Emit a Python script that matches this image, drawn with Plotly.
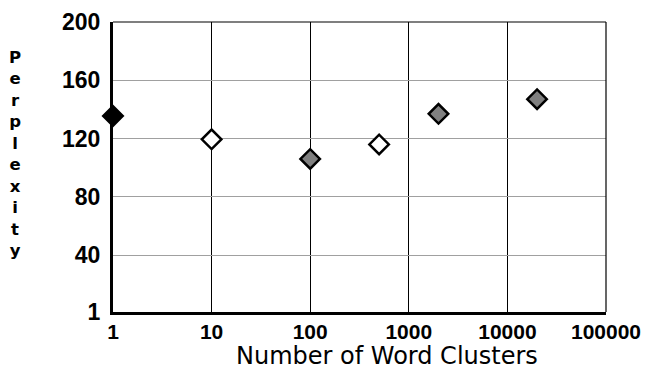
import plotly.graph_objects as go

clusters = [1, 10, 100, 500, 2000, 20000]
perplexity = [135.5, 119.5, 106, 116, 137, 147]
fill_colors = ["#000000", "#ffffff", "#808080", "#ffffff", "#808080", "#808080"]
x_ticks = [1, 10, 100, 1000, 10000, 100000]
x_tick_labels = ["1", "10", "100", "1000", "10000", "100000"]
y_ticks = [1, 40, 80, 120, 160, 200]
y_tick_labels = ["1", "40", "80", "120", "160", "200"]
y_title = "Perplexity"
x_title = "Number of Word Clusters"

TICKFONT = "Liberation Sans"
TITLEFONT = "DejaVu Sans"

fig = go.Figure()
fig.add_trace(go.Scatter(
    x=clusters, y=perplexity, mode="markers",
    marker=dict(symbol="diamond", size=15, color=fill_colors,
                line=dict(color="#000000", width=2.5)),
    cliponaxis=False, showlegend=False, hoverinfo="skip",
))

fig.update_layout(
    width=647, height=376,
    margin=dict(l=113, r=41, t=22, b=64),
    paper_bgcolor="white", plot_bgcolor="white",
    font=dict(family=TICKFONT, color="black"),
    xaxis=dict(
        type="log", range=[0, 5], automargin=False,
        tickvals=x_ticks, ticktext=x_tick_labels,
        tickfont=dict(family=TICKFONT, size=21, color="black", weight="bold"),
        showgrid=True, gridcolor="#000000", gridwidth=1,
        showline=True, linecolor="black", linewidth=2.5,
        ticks="", zeroline=False, ticklabelstandoff=-1,
    ),
    yaxis=dict(
        range=[1, 200], automargin=False,
        tickvals=y_ticks, ticktext=y_tick_labels,
        tickfont=dict(family=TICKFONT, size=23, color="black", weight="bold"),
        showgrid=True, gridcolor="#a0a0a0", gridwidth=1.2,
        showline=True, linecolor="black", linewidth=3,
        ticks="", zeroline=False, ticklabelstandoff=5,
    ),
)

# thin top and right frame lines
fig.add_shape(type="line", xref="paper", yref="paper", x0=0, x1=1, y0=1, y1=1,
              line=dict(color="black", width=1.2))
fig.add_shape(type="line", xref="paper", yref="paper", x0=1, x1=1, y0=0, y1=1,
              line=dict(color="black", width=1.2))

# x-axis title
fig.add_annotation(
    text=x_title, xref="paper", yref="paper",
    x=0.556, y=-0.153, xanchor="center", yanchor="middle", showarrow=False,
    font=dict(family=TITLEFONT, size=24, color="black"),
)

# vertical stacked y-axis title
fig.add_annotation(
    text="<br>".join(list(y_title)), xref="paper", yref="paper",
    x=-0.199, y=0.545, xanchor="center", yanchor="middle", showarrow=False,
    font=dict(family=TITLEFONT, size=16.5, color="black", weight="bold"),
    align="center",
)

fig.write_html(
    "out.html",
    config={"displayModeBar": False},
    post_script="document.body.style.margin='0';document.documentElement.style.overflow='hidden';",
)
